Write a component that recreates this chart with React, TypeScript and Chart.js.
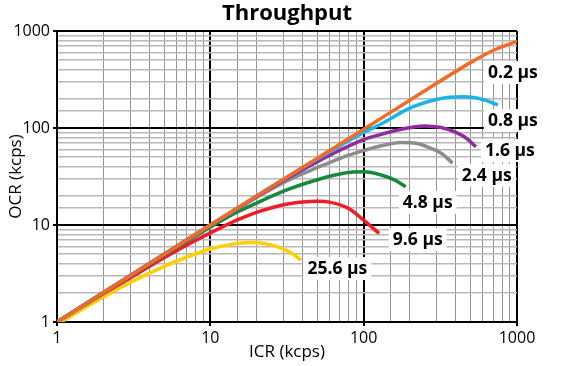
import React, { useEffect, useRef } from 'react';
import { Chart, registerables } from 'chart.js';

Chart.register(...registerables);

// ---- data (ICR kcps -> OCR kcps) ----
const icr02 = [1, 10, 100, 236, 500, 710, 1000];
const ocr02 = [1, 10, 97, 228, 475, 637, 780];

const icr08 = [1, 10, 30, 60, 100, 130, 200, 280, 350, 450, 520, 600, 680, 750];
const ocr08 = [1, 10, 29.6, 57, 90, 110, 160, 192, 206, 210, 206, 196, 184, 172];

const icr16 = [1, 10, 20, 30, 50, 70, 100, 130, 170, 250, 320, 400, 470, 540];
const ocr16 = [1, 10, 19.6, 28.8, 45, 59, 76, 86, 96, 105, 101, 90, 78, 64];

const icr24 = [1, 10, 20, 30, 40, 50, 65, 80, 100, 130, 175, 220, 260, 320, 380];
const ocr24 = [1, 9.9, 19.2, 27.3, 33.8, 39.2, 46.5, 52.5, 58.5, 65.5, 71, 69.5, 64, 55, 43.5];

const icr48 = [1, 2, 5, 10, 15, 20, 30, 40, 50, 60, 70, 85, 100, 130, 160, 188];
const ocr48 = [1, 2, 4.9, 9.5, 13.6, 16.8, 22.3, 26.3, 29.3, 31.8, 33.6, 35.2, 35.3, 32.8, 29, 24.8];

const icr96 = [1, 2, 3, 5, 7, 10, 15, 20, 30, 40, 50, 60, 80, 100, 115, 126];
const ocr96 = [1, 1.95, 2.85, 4.6, 6.2, 8.3, 11.3, 13.5, 16.2, 17.3, 17.6, 17.2, 14.8, 11.2, 9.3, 8.2];

const icr256 = [1, 2, 3, 5, 7, 10, 14, 18, 22, 28, 34, 39];
const ocr256 = [0.95, 1.8, 2.55, 3.75, 4.65, 5.65, 6.35, 6.6, 6.5, 5.9, 5.1, 4.35];

const seriesNames = ['0.2 µs', '0.8 µs', '1.6 µs', '2.4 µs', '4.8 µs', '9.6 µs', '25.6 µs'];
const seriesIcr = [icr02, icr08, icr16, icr24, icr48, icr96, icr256];
const seriesOcr = [ocr02, ocr08, ocr16, ocr24, ocr48, ocr96, ocr256];
const seriesColors = ['#F26A25', '#1BB3EA', '#8E2D9C', '#8C8C8C', '#17893F', '#EE1D26', '#FFD000'];

// label anchors (data coordinates: left edge, vertical centre)
const labelIcr = [646, 646, 618, 437, 180, 155, 43];
const labelOcr = [378, 121, 59.3, 32.8, 17.3, 7.17, 3.6];

const chartTitle = 'Throughput';
const xTitle = 'ICR (kcps)';
const yTitle = 'OCR (kcps)';

const FONT = '"Open Sans", "DejaVu Sans", sans-serif';

const isMajor = (v: number) => {
  const l = Math.log10(v);
  return Math.abs(l - Math.round(l)) < 1e-6;
};

const textPlugin = {
  id: 'texts',
  afterDatasetsDraw(chart: any) {
    const { ctx, scales } = chart;
    ctx.save();
    ctx.font = `bold 17.5px ${FONT}`;
    ctx.textBaseline = 'middle';
    ctx.textAlign = 'left';
    seriesNames.forEach((n, i) => {
      const x = scales.x.getPixelForValue(labelIcr[i]);
      const y = scales.y.getPixelForValue(labelOcr[i]);
      const w = ctx.measureText(n).width;
      ctx.fillStyle = '#ffffff';
      ctx.fillRect(x - 4, y - 11, w + 8, 23);
      ctx.fillStyle = '#000000';
      ctx.fillText(n, x, y + 1);
    });
    ctx.restore();
  },
  afterDraw(chart: any) {
    const { ctx, chartArea } = chart;
    const cx = (chartArea.left + chartArea.right) / 2;
    const cy = (chartArea.top + chartArea.bottom) / 2;
    ctx.save();
    ctx.fillStyle = '#000000';
    ctx.textAlign = 'center';
    ctx.textBaseline = 'middle';
    ctx.font = `bold 22px ${FONT}`;
    ctx.fillText(chartTitle, cx, 14);
    ctx.font = `17px ${FONT}`;
    ctx.fillText(xTitle, cx, 352);
    ctx.translate(16, cy);
    ctx.rotate(-Math.PI / 2);
    ctx.fillText(yTitle, 0, 0);
    ctx.restore();
  },
};

export default function App() {
  const canvasRef = useRef<HTMLCanvasElement | null>(null);

  useEffect(() => {
    document.body.style.margin = '0';
    const canvas = canvasRef.current;
    if (!canvas) return;

    const datasets = seriesNames.map((name, i) => ({
      label: name,
      data: seriesIcr[i].map((x, j) => ({ x, y: seriesOcr[i][j] })),
      borderColor: seriesColors[i],
      backgroundColor: seriesColors[i],
      borderWidth: 3.5,
      pointRadius: 0,
      cubicInterpolationMode: 'monotone' as const,
      fill: false,
      borderCapStyle: 'butt' as const,
    }));

    const mk = (minor: string, minorW: number) => ({
      color: (c: any) => (c.tick && isMajor(c.tick.value) ? '#000000' : minor),
      lineWidth: (c: any) => (c.tick && isMajor(c.tick.value) ? 2 : minorW),
      tickColor: (c: any) => (c.tick && isMajor(c.tick.value) ? '#000000' : 'rgba(0,0,0,0)'),
      tickLength: 4,
      drawTicks: true,
    });

    const tickCb = (v: any) => (isMajor(Number(v)) ? String(Math.round(Number(v))) : '');

    const chart = new Chart(canvas, {
      type: 'line',
      data: { datasets },
      plugins: [textPlugin],
      options: {
        animation: false,
        responsive: false,
        maintainAspectRatio: false,
        layout: { padding: { top: 31, right: 49, left: 0, bottom: 0 } },
        plugins: {
          legend: { display: false },
          tooltip: { enabled: false },
          title: { display: false },
        },
        scales: {
          x: {
            type: 'logarithmic',
            min: 1,
            max: 1000,
            border: { color: '#000000', width: 2 },
            grid: mk('#939393', 1),
            ticks: {
              autoSkip: false,
              maxRotation: 0,
              color: '#000000',
              padding: 3,
              font: { family: FONT, size: 16 },
              callback: tickCb,
            },
            afterFit: (s: any) => {
              s.height = 44;
            },
          },
          y: {
            type: 'logarithmic',
            min: 1,
            max: 1000,
            border: { color: '#000000', width: 2 },
            grid: mk('#b8b8b8', 1.5),
            ticks: {
              autoSkip: false,
              color: '#000000',
              padding: 3,
              font: { family: FONT, size: 16 },
              callback: tickCb,
            },
            afterFit: (s: any) => {
              s.width = 57;
            },
          },
        },
      },
    });

    return () => chart.destroy();
  }, []);

  return (
    <div style={{ position: 'absolute', left: 0, top: 0, width: 566, height: 366 }}>
      <canvas ref={canvasRef} width={566} height={366} style={{ width: 566, height: 366 }} />
    </div>
  );
}
